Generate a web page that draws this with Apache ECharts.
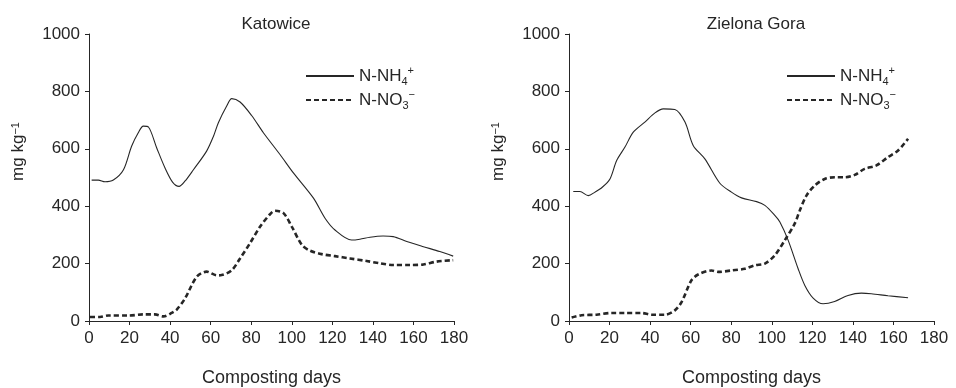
<!DOCTYPE html>
<html><head><meta charset="utf-8">
<script src="https://cdn.jsdelivr.net/npm/echarts@6/dist/echarts.min.js"></script>
<style>html,body{margin:0;padding:0;background:#fff}#c{width:956px;height:388px}</style>
</head><body><div id="c"></div>
<script>
const panelTitles = ['Katowice', 'Zielona Gora'];
const xTicks = [0, 20, 40, 60, 80, 100, 120, 140, 160, 180];
const yTicks = [0, 200, 400, 600, 800, 1000];
const seriesNames = ['N-NH4+', 'N-NO3-'];

// Katowice
const katDays_NH4 = [1.3,4.6,7.9,12,17,21,24.3,26.8,29.3,33.4,37.5,41.3,44.4,47.3,51.5,58,61.4,63.8,67.9,70.4,74.5,80.2,86,94.2,100.8,110.7,116.4,121.3,129.5,133.6,138.6,145,150,156.7,164.9,173,179.6];
const katVals_NH4 = [491,491,485,491,527,609,656,679,676,603,533,483,469,487,527,592,644,691,749,775,763,716,656,580,516,428,358,317,282,285,292,296,294,277,259,242,226];
const katDays_NO3 = [0.5,5.4,9.5,19.4,26.8,32.5,36.7,40.8,43.3,47.3,53.1,58,63,65.4,70.4,74.5,79.4,84.4,89.3,91.8,95.9,100,105,109,114.7,121.3,128.7,136.9,143.5,150,158.3,164.9,171.5,179.6];
const katVals_NO3 = [14,14,19,19,23,23,16,28,40,78,154,172,159,160,177,218,271,329,372,384,376,329,265,245,233,226,218,209,201,195,195,197,207,212];

// Zielona Gora
const zgDays_NH4 = [2.1,5.4,9.5,12.8,16.4,20.2,23.5,27.6,31.7,37.4,42.4,46.5,52.2,57.2,61.3,67,74.4,80.1,85.1,92.5,96.6,101.5,104,108.1,113,116.3,120.4,125.3,131,137.6,144.2,149.1,157.3,167.2];
const zgVals_NH4 = [451,451,437,449,466,495,559,606,658,693,725,739,737,693,611,565,480,449,429,416,403,368,345,281,182,124,80,60,68,89,97,95,88,81];
const zgDays_NO3 = [1.3,6.2,13.6,21,27.6,35.8,40.7,47.3,52.2,55.5,60.4,63.7,70.3,73.6,80.1,86.7,91.6,96.6,101.5,106.4,111.3,113.8,117.1,121.2,126.1,131.1,136,140.9,145.8,151.6,157.3,162.3,167.2];
const zgVals_NO3 = [12,20,22,28,28,28,22,22,37,66,142,162,176,171,176,182,194,200,229,281,339,385,437,472,495,501,501,509,530,542,571,594,635];

const pair = (xs, ys) => xs.map((x, i) => [x, ys[i]]);
const ink = '#262626';
const font = 'Liberation Sans, Arial, sans-serif';

const grids = [
  {left: 89, right: 502, top: 34, bottom: 67, containLabel: false, outerBoundsMode: 'none'},
  {left: 569, right: 22, top: 34, bottom: 67, containLabel: false, outerBoundsMode: 'none'}
];
const xAxes = grids.map((g, i) => ({
  type: 'value', gridIndex: i, min: 0, max: 180, interval: 20,
  name: 'Composting days', nameLocation: 'middle', nameGap: 48,
  nameTextStyle: {color: ink, fontSize: 18, fontFamily: font},
  axisLine: {lineStyle: {color: ink, width: 1}},
  axisTick: {show: true, length: 4, lineStyle: {color: ink}},
  axisLabel: {color: ink, fontSize: 17, fontFamily: font, margin: 9,
    formatter: v => xTicks.includes(v) ? String(v) : ''},
  splitLine: {show: false}
}));
const yAxes = grids.map((g, i) => ({
  type: 'value', gridIndex: i, min: 0, max: 1000, interval: 200,
  name: 'mg kg{s|−1}', nameLocation: 'middle', nameGap: 62, nameRotate: 90,
  nameTextStyle: {color: ink, fontSize: 17, fontFamily: font, padding: [0, 0, 0, 52],
    rich: {s: {fontSize: 11, fontFamily: font, color: ink, verticalAlign: 'top', padding: [0,0,6,0]}}},
  axisLine: {show: true, lineStyle: {color: ink, width: 1}},
  axisTick: {show: true, length: 4, lineStyle: {color: ink}},
  axisLabel: {color: ink, fontSize: 17, fontFamily: font, margin: 9,
    formatter: v => yTicks.includes(v) ? String(v) : ''},
  splitLine: {show: false}
}));

const legendRich = {
  m: {fontSize: 17, fontFamily: font, color: ink, lineHeight: 22},
  b: {fontSize: 11, fontFamily: font, color: ink, verticalAlign: 'bottom', lineHeight: 22},
  t: {fontSize: 11, fontFamily: font, color: ink, verticalAlign: 'top', lineHeight: 14}
};
const legendFmt = n => n === seriesNames[0] ? '{m|N-NH}{b|4}{t|+}' : '{m|N-NO}{b|3}{t|−}';
const legends = [300, 781].map(l => ({
  left: l, top: 60, orient: 'vertical', itemWidth: 48, itemHeight: 12, itemGap: 2,
  data: seriesNames, formatter: legendFmt, selectedMode: false,
  itemStyle: {opacity: 0, borderWidth: 0},
  textStyle: {rich: legendRich, padding: [0, 0, 0, 0]}
}));

const solid = {color: ink, width: 1.1, type: 'solid'};
const dashed = {color: ink, width: 2.6, type: [5, 3]};
const mk = (name, idx, data, ls) => ({
  name, type: 'line', xAxisIndex: idx, yAxisIndex: idx, data,
  smooth: 0.3, symbol: 'none', lineStyle: ls, itemStyle: {color: ink}, animation: false
});

const chart = echarts.init(document.getElementById('c'), null, {renderer: 'canvas'});
chart.setOption({
  backgroundColor: '#fff',
  animation: false,
  title: [
    {text: panelTitles[0], left: 271, top: 11, textAlign: 'center', textStyle: {fontSize: 17, fontWeight: 'normal', color: ink, fontFamily: font}},
    {text: panelTitles[1], left: 751, top: 11, textAlign: 'center', textStyle: {fontSize: 17, fontWeight: 'normal', color: ink, fontFamily: font}}
  ],
  grid: grids, xAxis: xAxes, yAxis: yAxes, legend: legends,
  series: [
    mk(seriesNames[0], 0, pair(katDays_NH4, katVals_NH4), solid),
    mk(seriesNames[1], 0, pair(katDays_NO3, katVals_NO3), dashed),
    mk(seriesNames[0], 1, pair(zgDays_NH4, zgVals_NH4), solid),
    mk(seriesNames[1], 1, pair(zgDays_NO3, zgVals_NO3), dashed)
  ]
});
</script></body></html>
